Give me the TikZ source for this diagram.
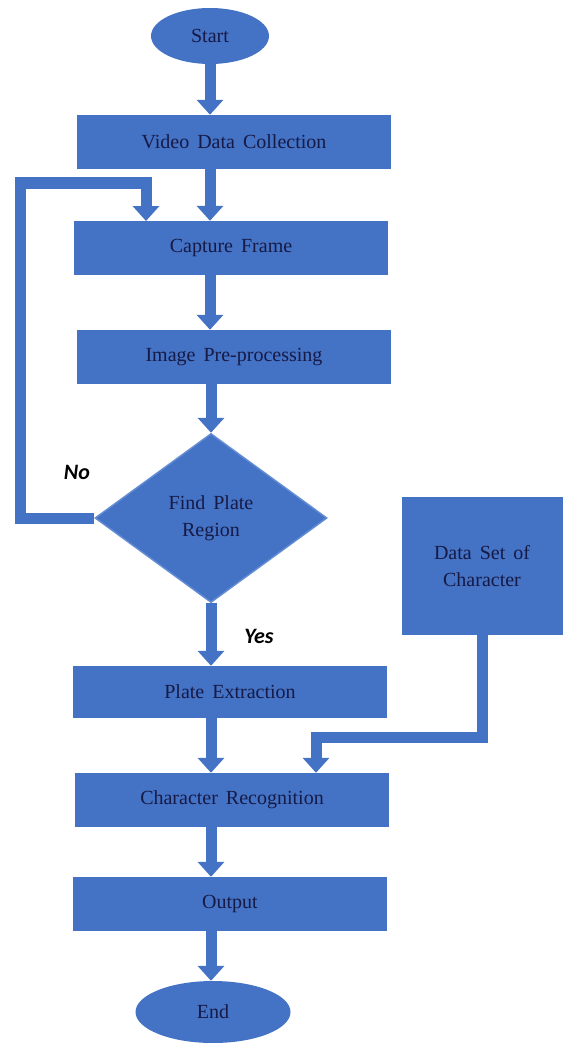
\documentclass[tikz,border=0pt]{standalone}
\usepackage{fontspec}
\setmainfont{Liberation Serif}[WordSpace=1.6]
\newfontfamily\answerfont{Carlito}
\usetikzlibrary{shapes.geometric,arrows.meta}
\definecolor{chartblue}{RGB}{68,114,196}
\definecolor{edgeblue}{RGB}{98,140,212}
\definecolor{inkblue}{RGB}{22,26,70}

\tikzset{
  stepbox/.style={rectangle, fill=chartblue, inner sep=0pt, minimum width=314pt,
    minimum height=54pt, text=inkblue, font=\fontsize{20}{27}\selectfont, align=center},
  terminal/.style={ellipse, fill=chartblue, inner sep=0pt, text=inkblue,
    font=\fontsize{20}{27}\selectfont},
  decision/.style={diamond, fill=chartblue, draw=edgeblue, line width=1.5pt,
    inner sep=0pt, shape aspect=1.37, minimum width=232pt, minimum height=169pt,
    text=inkblue, font=\fontsize{20}{27}\selectfont, align=center},
  flow/.style={draw=chartblue, line width=11pt, line join=miter,
    -{Triangle[width=26pt,length=15pt]}},
  answer/.style={font=\answerfont\bfseries\itshape\fontsize{22}{26}\selectfont}
}

\begin{document}
\begin{tikzpicture}[x=1pt,y=-1pt]
	\useasboundingbox (0,0) rectangle (565,1043);

	% the steps of the chart
	\node[terminal, minimum width=118pt, minimum height=56pt] (start) at (210,36) {Start};
	\node[stepbox] (collect) at (234,142) {Video Data Collection};
	\node[stepbox] (capture) at (231,248) {Capture Frame};
	\node[stepbox] (prep) at (234,357) {Image Pre-processing};
	\node[decision] (decide) at (211,518) {Find Plate\\Region};
	\node[stepbox, minimum height=52pt] (extract) at (230,692) {Plate Extraction};
	\node[stepbox] (recog) at (232,800) {Character Recognition};
	\node[stepbox] (output) at (230,904) {Output};
	\node[terminal, minimum width=155pt, minimum height=62pt] (finish) at (213,1012) {End};
	\node[stepbox, minimum width=161pt, minimum height=138pt] (dataset) at (482,566) {Data Set of\\Character};

	% the answers of the decision
	\node[answer] (no) at (77,472) {No};
	\node[answer] (yes) at (259,636) {Yes};

	% turning points of the two side lines
	\coordinate (noturn) at (20,183);
	\coordinate (loopin) at (146,221);
	\coordinate (dsturn) at (316,737);

	% draw the arrows down the chart
	\draw[flow] (start.south) -- (start.south |- collect.north);
	\draw[flow] (collect.south -| start) -- (capture.north -| start);
	\draw[flow] (capture.south -| start) -- (prep.north -| start);
	\draw[flow] (prep.south -| decide) -- (decide.north);
	\draw[flow] (decide.south) -- (decide.south |- extract.north);
	\draw[flow] (extract.south -| decide) -- (recog.north -| decide);
	\draw[flow] (recog.south -| decide) -- (output.north -| decide);
	\draw[flow] (output.south -| decide) -- (finish.north -| decide);

	% draw the loop back and the data set line
	\draw[flow] (decide.west) -| (noturn) -| (loopin);
	\draw[flow] (dataset.south) |- (dsturn) -- (recog.north -| dsturn);
\end{tikzpicture}
\end{document}
